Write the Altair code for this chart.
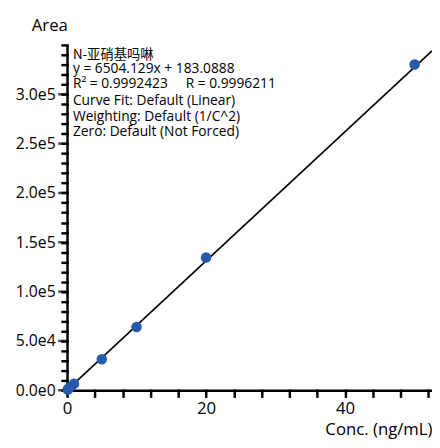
import altair as alt
import pandas as pd

# data
conc = [0.1, 0.2, 0.5, 1, 5, 10, 20, 50]
area = [850, 1480, 3440, 6690, 31500, 64100, 134600, 330200]
fit_x = [0, 52.5]
fit_y = [183, 344000]
info_top = ["N-亚硝基吗啉", "y = 6504.129x + 183.0888", "R² = 0.9992423\u00a0\u00a0\u00a0\u00a0\u00a0R = 0.9996211"]
info_bottom = ["Curve Fit: Default (Linear)", "Weighting: Default (1/C^2)", "Zero: Default (Not Forced)"]
x_ticks = list(range(0, 53, 4))
y_ticks = list(range(0, 350001, 10000))
y_major = [0, 50000, 100000, 150000, 200000, 250000, 300000]

FONT = "Open Sans"
W, H = 371, 351

pts = pd.DataFrame({"conc": conc, "area": area})
fit = pd.DataFrame({"conc": fit_x, "area": fit_y})

xscale = alt.Scale(domain=[0, 52.5], nice=False, zero=False)
yscale = alt.Scale(domain=[0, 350000], nice=False, zero=False)

x_axis = alt.Axis(
    values=x_ticks, format="d",
    labelExpr="datum.value % 20 === 0 ? datum.label : ''",
    labelOverlap=False, labelFlush=False,
    grid=False, domainColor="black", domainWidth=2.5,
    ticks=True, tickColor="black", tickWidth=2.5, tickSize=6, tickCap="square",
    labelFont=FONT, labelFontSize=17, labelColor="black", labelPadding=5,
    title="Conc. (ng/mL)", titleFont=FONT, titleFontSize=17, titleFontWeight="normal",
    titleColor="black", titleX=W, titleAlign="right", titleY=45, titleBaseline="alphabetic",
)
y_axis = alt.Axis(
    values=y_ticks,
    labelExpr="datum.value % 50000 === 0 && datum.value < 350000 ? (datum.value === 0 ? '0.0e0' : replace(format(datum.value, '.1e'), '+', '')) : ''",
    labelOverlap=False, labelFlush=False,
    grid=False, domainColor="black", domainWidth=2.5,
    ticks=True, tickColor="black", tickWidth=2.5, tickSize=5, tickCap="square",
    labelFont=FONT, labelFontSize=16, labelColor="black", labelPadding=7,
    title="Area", titleFont=FONT, titleFontSize=17, titleFontWeight="normal",
    titleColor="black", titleAngle=0, titleX=-18, titleY=-20, titleAlign="center",
    titleBaseline="middle",
)

line = alt.Chart(fit).mark_line(color="black", strokeWidth=1.6, clip=True).encode(
    x=alt.X("conc:Q", scale=xscale, axis=x_axis),
    y=alt.Y("area:Q", scale=yscale, axis=y_axis),
)
points = alt.Chart(pts).mark_circle(color="#2759A9", size=115, opacity=1).encode(
    x=alt.X("conc:Q", scale=xscale, axis=x_axis),
    y=alt.Y("area:Q", scale=yscale, axis=y_axis),
)

# longer marks for the labelled y ticks, placed through the shared scale
y_major_ticks = alt.Chart(pd.DataFrame({"area": y_major})).mark_tick(
    color="black", thickness=2.5, size=9, orient="horizontal", xOffset=-4.5).encode(
    y=alt.Y("area:Q", scale=yscale, axis=y_axis), x=alt.value(0))

text_layers = []
top_y = [10, 25, 39.5]
bot_y = [57.5, 73, 88.5]
for i, (t, yy) in enumerate(zip(info_top + info_bottom, top_y + bot_y)):
    is_cjk = i == 0
    text_layers.append(
        alt.Chart(pd.DataFrame({"t": [t]})).mark_text(
            align="left", baseline="middle",
            font="Noto Sans CJK SC" if is_cjk else FONT,
            fontSize=13.5 if is_cjk else 14, color="black",
        ).encode(x=alt.value(6), y=alt.value(yy), text="t:N")
    )

chart = alt.layer(y_major_ticks, line, points, *text_layers).properties(
    width=W, height=H,
    autosize=alt.AutoSizeParams(type="none"),
    padding={"left": 60, "top": 34, "right": 0, "bottom": 47},
).configure_view(stroke=None).configure_axis(
    labelOverlap=False, grid=False, ticks=True
)

chart.save("out.html", embed_options={"renderer": "svg", "actions": False})
